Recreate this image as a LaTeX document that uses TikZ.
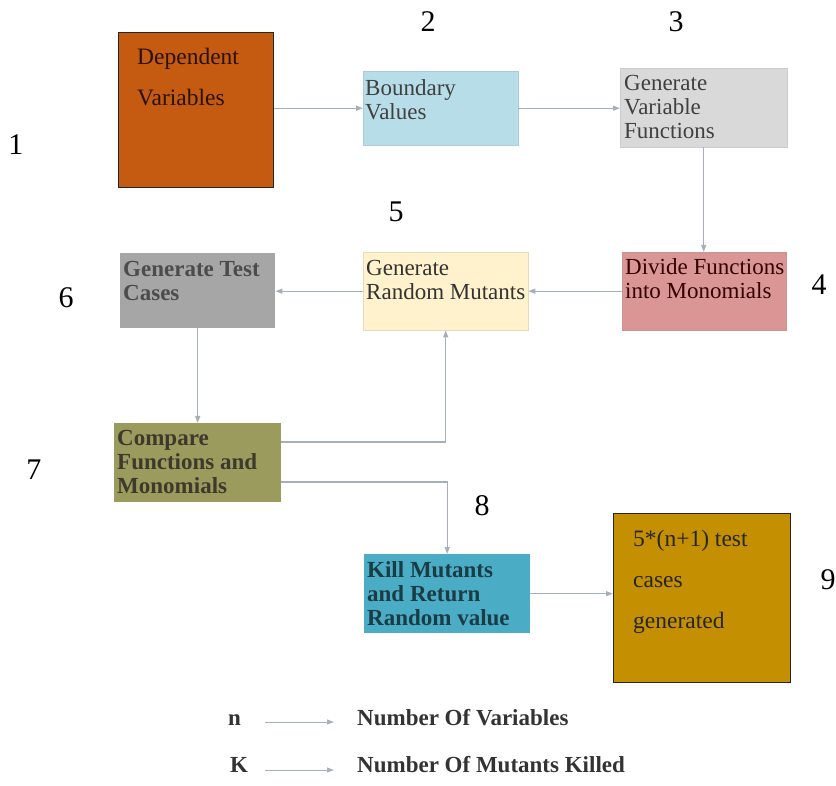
\documentclass[tikz,border=0pt]{standalone}
\usepackage{fontspec}
\setmainfont{Liberation Serif}
\usetikzlibrary{arrows.meta,calc}
\definecolor{cOrange}{HTML}{C55A11}
\definecolor{cBlue}{HTML}{B7DEE8}
\definecolor{cGrayL}{HTML}{D9D9D9}
\definecolor{cPink}{HTML}{D99694}
\definecolor{cCream}{HTML}{FFF2CC}
\definecolor{cGray}{HTML}{A6A6A6}
\definecolor{cOlive}{HTML}{9A9B5C}
\definecolor{cTeal}{HTML}{4BACC6}
\definecolor{cGold}{HTML}{C48F00}
\definecolor{cArrow}{HTML}{A7B0BA}
\tikzset{
  box/.style={rectangle, inner sep=0pt, anchor=north west},
  txt/.style={anchor=base west, inner sep=0pt, font=\fontsize{23}{24}\selectfont},
  btxt/.style={anchor=base west, inner sep=0pt, font=\fontsize{23}{24}\selectfont\bfseries},
  wtxt/.style={anchor=base west, inner sep=0pt, font=\fontsize{23.5}{41}\selectfont},
  num/.style={inner sep=0pt, font=\fontsize{30}{32}\selectfont},
  conn/.style={draw=cArrow, line width=1.3pt, -{Triangle[length=7pt,width=5pt]}}
}
\begin{document}
\begin{tikzpicture}[x=1pt,y=-1pt]
\useasboundingbox (0,0) rectangle (836,786);
% boxes
\node[box, fill=cOrange, draw=black!85, line width=1pt, minimum width=155pt, minimum height=155pt] (b1) at (118,32) {};
\node[box, fill=cBlue, draw=cBlue!80!gray, minimum width=155pt, minimum height=74pt] (b2) at (363,71) {};
\node[box, fill=cGrayL, draw=cGrayL!85!gray, minimum width=167pt, minimum height=79pt] (b3) at (620,68) {};
\node[box, fill=cPink, draw=cPink!85!gray, minimum width=164pt, minimum height=78pt] (b4) at (622,252) {};
\node[box, fill=cCream, draw=cCream!80!gray, minimum width=165pt, minimum height=78pt] (b5) at (363,252) {};
\node[box, fill=cGray, minimum width=155pt, minimum height=75pt] (b6) at (120,253) {};
\node[box, fill=cOlive, minimum width=167pt, minimum height=79pt] (b7) at (114,423) {};
\node[box, fill=cTeal, minimum width=166pt, minimum height=79pt] (b8) at (364,554) {};
\node[box, fill=cGold, draw=black!85, line width=1pt, minimum width=177pt, minimum height=169pt] (b9) at (613,513) {};
% texts
\node[wtxt, text=black!80!cOrange] (t1) at (137,65) {\vtop{\hbox{Dependent}\hbox{Variables}}};
\node[txt, text=black!75] (t2) at (365,96) {\vtop{\hbox{Boundary}\hbox{Values}}};
\node[txt, text=black!75] (t3) at (624,91) {\vtop{\hbox{Generate}\hbox{Variable}\hbox{Functions}}};
\node[txt, text=black!80!red] (t4) at (625,275) {\vtop{\hbox{Divide Functions}\hbox{into Monomials}}};
\node[txt, text=black!80] (t5) at (366,276) {\vtop{\hbox{Generate}\hbox{Random Mutants}}};
\node[btxt, text=black!70] (t6) at (123,277) {\vtop{\hbox{Generate Test}\hbox{Cases}}};
\node[btxt, text=black!75!olive] (t7) at (117,446) {\vtop{\hbox{Compare}\hbox{Functions and}\hbox{Monomials}}};
\node[btxt, text=black!65!cTeal] (t8) at (367,577) {\vtop{\hbox{Kill Mutants}\hbox{and Return}\hbox{Random value}}};
\node[wtxt, text=black!85] (t9) at (633,546) {\vtop{\hbox{5*(n+1) test}\hbox{cases}\hbox{generated}}};
% numbers
\node[num] (n1) at (16,145) {1};
\node[num] (n2) at (428,22) {2};
\node[num] (n3) at (676,22) {3};
\node[num] (n4) at (819,285) {4};
\node[num] (n5) at (396,212) {5};
\node[num] (n6) at (66,298) {6};
\node[num] (n7) at (34,470) {7};
\node[num] (n8) at (482,506) {8};
\node[num] (n9) at (828,580) {9};
% connectors
\draw[conn] (b1.east |- b2.west) -- (b2.west);
\draw[conn] (b2.east) -- (b3.west |- b2.east);
\draw[conn] (b3.south) -- (b4.north -| b3.south);
\draw[conn] (b4.west) -- (b5.east |- b4.west);
\draw[conn] (b5.west) -- (b6.east |- b5.west);
\draw[conn] (b6.south) -- (b7.north -| b6.south);
\coordinate (c7a) at ($(b7.north east)+(0,19)$);
\coordinate (c7b) at ($(b7.north east)+(0,59)$);
\draw[conn] (c7a) -| (b5.south);
\draw[conn] (c7b) -| (b8.north);
\draw[conn] (b8.east) -- (b9.west |- b8.east);
% legend
\node[btxt, text=black!80] (ln) at (228,725) {n};
\node[btxt, text=black!80] (lk) at (230,772) {K};
\node[btxt, text=black!80] (lnt) at (357,725) {Number Of Variables};
\node[btxt, text=black!80] (lkt) at (357,772) {Number Of Mutants Killed};
\coordinate (an1) at (265,722);
\coordinate (an2) at (334,722);
\coordinate (ak1) at (265,770);
\coordinate (ak2) at (334,770);
\draw[conn, line width=1pt] (an1) -- (an2);
\draw[conn, line width=1pt] (ak1) -- (ak2);
\end{tikzpicture}
\end{document}
